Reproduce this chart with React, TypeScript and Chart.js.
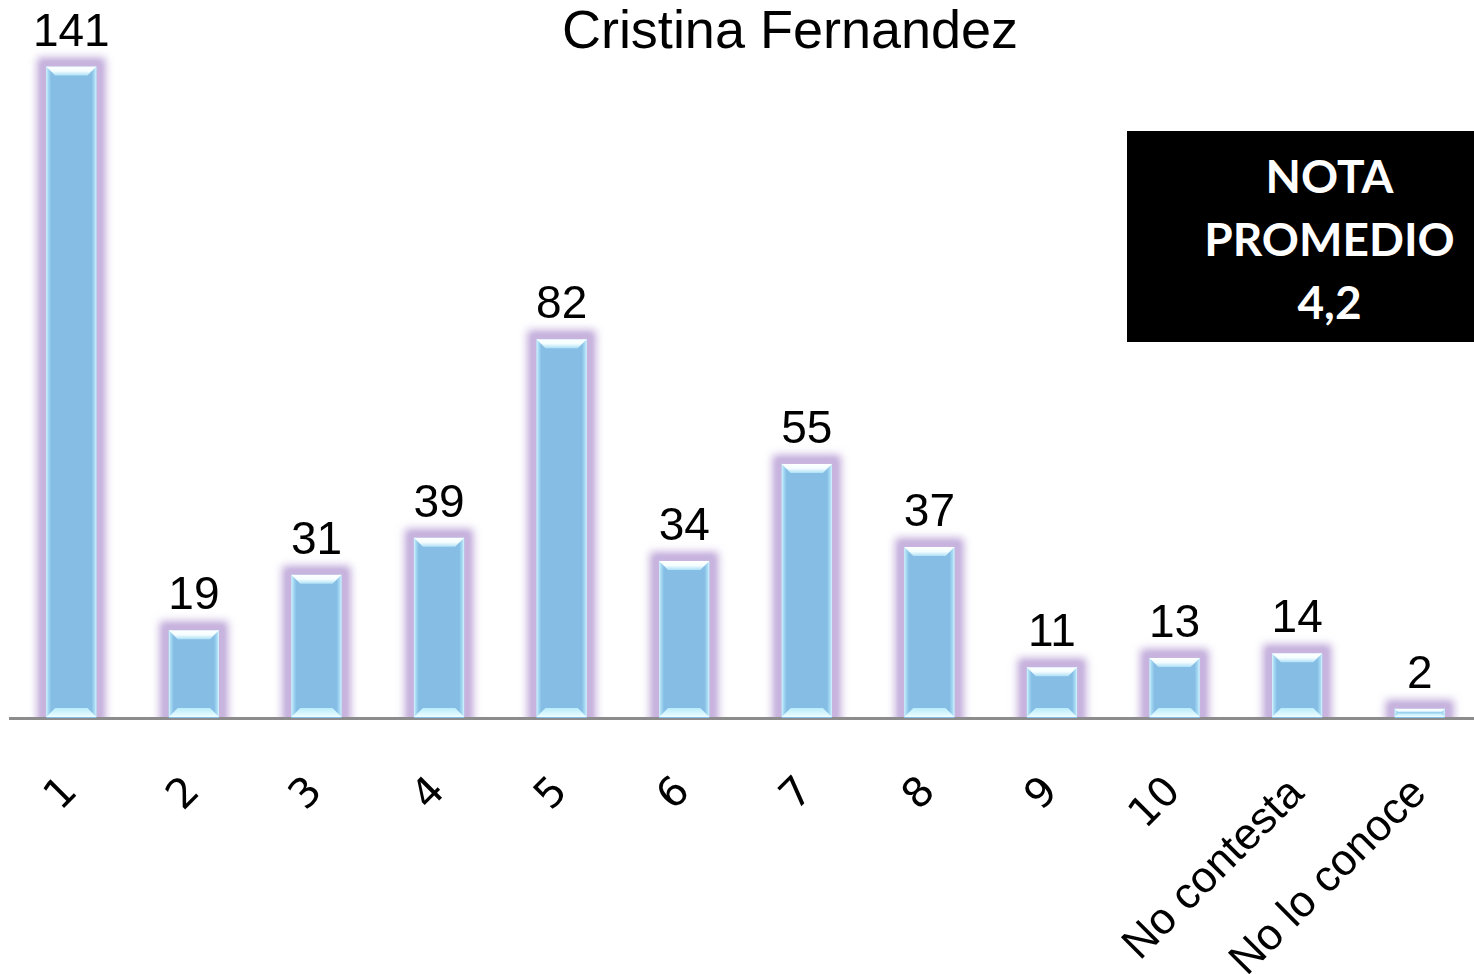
import React, { useEffect, useRef } from "react";
import { Chart, registerables } from "chart.js";

Chart.register(...registerables);

const categories = ["1", "2", "3", "4", "5", "6", "7", "8", "9", "10", "No contesta", "No lo conoce"];
const counts = [141, 19, 31, 39, 82, 34, 55, 37, 11, 13, 14, 2];
const yMax = 150;
const titleText = "Cristina Fernandez";
const boxLines = ["NOTA", "PROMEDIO", "4,2"];

const W = 1482;
const H = 974;

const decorPlugin = {
  id: "decor",
  beforeDatasetsDraw(chart: any) {
    const ctx = chart.ctx;
    const meta = chart.getDatasetMeta(0);
    const area = chart.chartArea;
    ctx.save();
    ctx.beginPath();
    ctx.rect(0, 0, chart.width, area.bottom - 1);
    ctx.clip();
    ctx.filter = "blur(4px)";
    ctx.fillStyle = "rgba(192,170,218,1)";
    meta.data.forEach((el: any) => {
      const p = el.getProps(["x", "y", "base", "width"], true);
      ctx.fillRect(p.x - p.width / 2 - 9, p.y - 9, p.width + 18, p.base - p.y + 16);
    });
    ctx.filter = "blur(2px)";
    ctx.fillStyle = "rgba(200,180,222,1)";
    meta.data.forEach((el: any) => {
      const p = el.getProps(["x", "y", "base", "width"], true);
      ctx.fillRect(p.x - p.width / 2 - 5, p.y - 5, p.width + 10, p.base - p.y + 10);
    });
    ctx.restore();
  },
  afterDatasetsDraw(chart: any) {
    const ctx = chart.ctx;
    const meta = chart.getDatasetMeta(0);
    ctx.save();
    meta.data.forEach((el: any, i: number) => {
      const p = el.getProps(["x", "y", "base", "width"], true);
      const l = p.x - p.width / 2;
      const r = p.x + p.width / 2;
      const t = p.y;
      const b = p.base - 1;
      const h = b - t;
      const bev = Math.min(9, h / 2.2);
      const gl = ctx.createLinearGradient(l, 0, l + 5, 0);
      gl.addColorStop(0, "rgba(220,248,255,1)");
      gl.addColorStop(0.4, "rgba(175,225,248,0.8)");
      gl.addColorStop(1, "rgba(175,225,248,0)");
      ctx.fillStyle = gl;
      ctx.fillRect(l, t, 5, h);
      const gr = ctx.createLinearGradient(r, 0, r - 5, 0);
      gr.addColorStop(0, "rgba(220,248,255,1)");
      gr.addColorStop(0.4, "rgba(175,225,248,0.8)");
      gr.addColorStop(1, "rgba(175,225,248,0)");
      ctx.fillStyle = gr;
      ctx.fillRect(r - 5, t, 5, h);
      const gt = ctx.createLinearGradient(0, t, 0, t + bev);
      gt.addColorStop(0, "#ffffff");
      gt.addColorStop(0.5, "#f4fdff");
      gt.addColorStop(1, "#aee0f6");
      ctx.fillStyle = gt;
      ctx.beginPath();
      ctx.moveTo(l, t);
      ctx.lineTo(r, t);
      ctx.lineTo(r - bev, t + bev);
      ctx.lineTo(l + bev, t + bev);
      ctx.closePath();
      ctx.fill();
      const gb = ctx.createLinearGradient(0, b - bev, 0, b);
      gb.addColorStop(0, "#b8ecfb");
      gb.addColorStop(1, "#effdff");
      ctx.fillStyle = gb;
      ctx.beginPath();
      ctx.moveTo(l, b);
      ctx.lineTo(r, b);
      ctx.lineTo(r - bev, b - bev);
      ctx.lineTo(l + bev, b - bev);
      ctx.closePath();
      ctx.fill();
      ctx.fillStyle = "#000000";
      ctx.font = "46px 'Liberation Sans', Arial, sans-serif";
      ctx.textAlign = "center";
      ctx.textBaseline = "alphabetic";
      ctx.fillText(String(counts[i]), p.x, t - 21);
    });
    ctx.restore();
  },
  afterDraw(chart: any) {
    const ctx = chart.ctx;
    ctx.save();
    ctx.fillStyle = "#000000";
    ctx.font = "54px 'Liberation Sans', Arial, sans-serif";
    ctx.textAlign = "center";
    ctx.textBaseline = "middle";
    ctx.fillText(titleText, 790, 33);
    ctx.restore();
  },
};

export default function App() {
  const ref = useRef<HTMLCanvasElement>(null);
  useEffect(() => {
    if (!ref.current) return;
    const chart = new Chart(ref.current, {
      type: "bar",
      data: {
        labels: categories,
        datasets: [
          {
            data: counts,
            backgroundColor: "#85bde4",
            borderWidth: 0,
            barPercentage: 0.41,
            categoryPercentage: 1,
          },
        ],
      },
      options: {
        animation: false,
        responsive: false,
        maintainAspectRatio: false,
        layout: { padding: { left: 10, right: 1, top: 25, bottom: 0 } },
        plugins: {
          legend: { display: false },
          tooltip: { enabled: false },
          title: { display: false },
        },
        scales: {
          y: { display: false, min: 0, max: yMax },
          x: {
            afterFit: (scale: any) => {
              scale.height = H - 718;
              scale.paddingLeft = 0;
              scale.paddingRight = 0;
            },
            grid: { display: false, drawTicks: false },
            border: { display: true, color: "#8c8c8c", width: 3 },
            ticks: {
              autoSkip: false,
              maxRotation: 45,
              minRotation: 45,
              padding: 50,
              color: "#000000",
              font: (ctx: any) => ({
                family: ctx.index < 10 ? "'DejaVu Sans', sans-serif" : "'Liberation Sans', Arial, sans-serif",
                size: ctx.index < 10 ? 41 : 44,
              }),
            },
          },
        },
      },
      plugins: [decorPlugin],
    });
    return () => chart.destroy();
  }, []);

  return (
    <div style={{ position: "fixed", left: 0, top: 0, width: 1474, height: H, overflow: "hidden", background: "#ffffff" }}>
      <canvas ref={ref} width={W} height={H} style={{ display: "block" }} />
      <div
        style={{
          position: "absolute",
          left: 1127,
          top: 131,
          width: 347,
          height: 211,
          boxSizing: "border-box",
          paddingLeft: 58,
          paddingTop: 13,
          background: "#000000",
          color: "#ffffff",
          fontFamily: "Lato, 'Open Sans', sans-serif",
          fontWeight: 700,
          fontSize: 46,
          lineHeight: "63px",
          textAlign: "center",
        }}
      >
        {boxLines.map((t) => (
          <div key={t}>{t}</div>
        ))}
      </div>
    </div>
  );
}
